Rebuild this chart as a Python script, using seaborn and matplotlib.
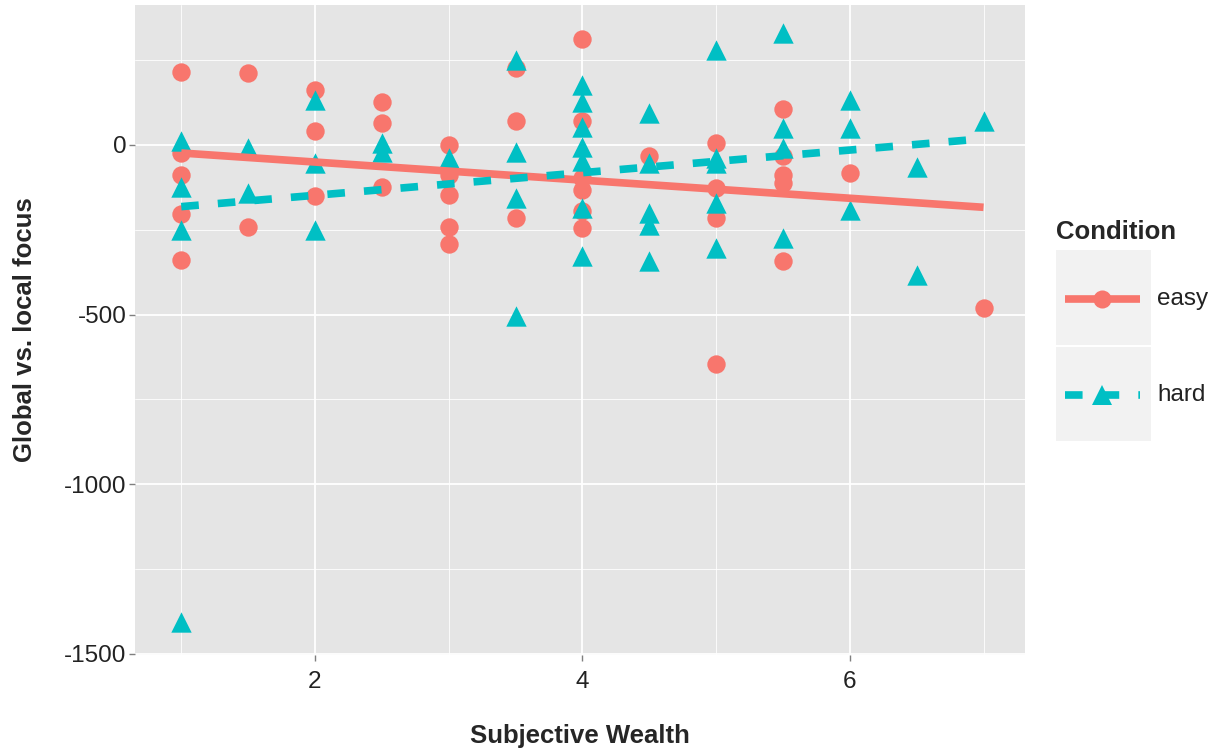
import numpy as np
import pandas as pd
import matplotlib
matplotlib.use("Agg")
import matplotlib.pyplot as plt
import seaborn as sns
from matplotlib.patches import Rectangle
from matplotlib.lines import Line2D
from matplotlib.ticker import FixedLocator

# ---- data ----
easy_wealth = [1, 1, 1, 1, 1, 1.5, 1.5, 2, 2, 2, 2.5, 2.5, 2.5, 3, 3, 3, 3, 3,
               3.5, 3.5, 3.5, 4, 4, 4, 4, 4, 4, 4.5, 5, 5, 5, 5,
               5.5, 5.5, 5.5, 5.5, 5.5, 6, 7]
easy_focus = [215, -24, -88, -204, -338, 211, -243, 162, 41, -152, 127, 64, -123,
              0, -88, -149, -243, -292, 225, 70, -216, 311, 69, -98, -132, -196, -245,
              -34, 5, -127, -216, -645, 106, -34, -88, -113, -343, -83, -480]
hard_wealth = [1, 1, 1, 1, 1.5, 1.5, 2, 2, 2, 2.5, 2.5, 3, 3.5, 3.5, 3.5, 3.5,
               4, 4, 4, 4, 4, 4, 4, 4.5, 4.5, 4.5, 4.5, 4.5, 5, 5, 5, 5, 5,
               5.5, 5.5, 5.5, 5.5, 6, 6, 6, 6.5, 6.5, 7]
hard_focus = [10, -123, -250, -1405, -8, -142, 132, -54, -250, 5, -20, -39,
              250, -20, -157, -505, 176, 127, 54, -5, -49, -186, -328,
              93, -54, -201, -235, -343, 279, -39, -54, -171, -304,
              329, 51, -10, -274, 132, 49, -191, -64, -382, 69]
# linear trend lines as shown in the reference (values at x = 1 and x = 7)
trend_wealth = [1, 7]
easy_trend = [-24, -184]
hard_trend = [-182, 18]
conditions = ["easy", "hard"]
x_ticks = [2, 4, 6]
y_ticks = [0, -500, -1000, -1500]

df = pd.DataFrame({
    "Subjective Wealth": easy_wealth + hard_wealth,
    "Global vs. local focus": easy_focus + hard_focus,
    "Condition": ["easy"] * len(easy_wealth) + ["hard"] * len(hard_wealth),
})
trend = pd.DataFrame({
    "Subjective Wealth": trend_wealth * 2,
    "Global vs. local focus": easy_trend + hard_trend,
    "Condition": ["easy"] * 2 + ["hard"] * 2,
})

colors = {"easy": "#F8766D", "hard": "#00BFC4"}
markers = {"easy": "o", "hard": "^"}
sizes = {"easy": 175, "hard": 215}

sns.set_theme(style="darkgrid")
plt.rcParams["font.family"] = ["Liberation Sans", "DejaVu Sans"]
plt.rcParams["axes.unicode_minus"] = False

W, H = 1222, 755
fig = plt.figure(figsize=(W / 100, H / 100), dpi=100)
fig.patch.set_facecolor("white")
ax = fig.add_axes([135 / W, 1 - 655 / H, (1025 - 135) / W, (655 - 5) / H])
ax.set_facecolor("#E5E5E5")

for cond in conditions:
    sub = df[df["Condition"] == cond]
    sns.scatterplot(data=sub, x="Subjective Wealth", y="Global vs. local focus",
                    color=colors[cond], marker=markers[cond], s=sizes[cond],
                    linewidth=0, ax=ax, legend=False, zorder=3)
for cond in conditions:
    sub = trend[trend["Condition"] == cond]
    kw = dict(color=colors[cond], lw=5.5, zorder=4, solid_capstyle="butt")
    if cond == "hard":
        kw.update(dashes=(2.3, 2.5), dash_capstyle="butt")
    sns.lineplot(data=sub, x="Subjective Wealth", y="Global vs. local focus",
                 ax=ax, legend=False, **kw)

ax.set_xlim(0.654, 7.31)
ax.set_ylim(-1503, 412)
ax.xaxis.set_major_locator(FixedLocator(x_ticks))
ax.yaxis.set_major_locator(FixedLocator(y_ticks))
ax.xaxis.set_minor_locator(FixedLocator([1, 3, 5, 7]))
ax.yaxis.set_minor_locator(FixedLocator([-1250, -750, -250, 250]))
ax.grid(which="major", color="white", lw=1.3)
ax.grid(which="minor", color="white", lw=0.6)
ax.set_axisbelow(True)
for sp in ax.spines.values():
    sp.set_visible(False)
ax.tick_params(axis="both", which="major", length=4, width=1, color="#7F7F7F",
               labelsize=17.5, labelcolor="#222222", bottom=True, left=True)
ax.tick_params(axis="x", which="major", pad=7.5)
ax.tick_params(axis="y", which="major", pad=2)
ax.tick_params(axis="both", which="minor", length=0)
ax.set_xlabel("Subjective Wealth", fontsize=18.5, fontweight="bold", labelpad=22.5)
ax.set_ylabel("Global vs. local focus", fontsize=18.5, fontweight="bold", labelpad=19.5)

# ---- legend (ggplot style) ----
lax = fig.add_axes([0, 0, 1, 1], zorder=10)
lax.set_xlim(0, W)
lax.set_ylim(H, 0)
lax.axis("off")
lax.patch.set_visible(False)
lax.text(1056, 232, "Condition", fontsize=18.5, fontweight="bold", va="center", ha="left")
key_rows = {"easy": (250, 345), "hard": (347, 441)}
for cond in conditions:
    y0, y1 = key_rows[cond]
    lax.add_patch(Rectangle((1056, y0), 95, y1 - y0, facecolor="#F2F2F2", edgecolor="none"))
    yc = (y0 + y1) / 2 + 1
    lk = dict(color=colors[cond], lw=5.5, solid_capstyle="butt")
    if cond == "hard":
        lk.update(dashes=(2.3, 2.5), dash_capstyle="butt")
    lax.add_line(Line2D([1065, 1140], [yc, yc], **lk))
    lax.add_line(Line2D([1102], [yc], marker=markers[cond], color=colors[cond],
                        markersize=13 if cond == "easy" else 14.5, markeredgewidth=0, lw=0))
    lax.text(1157, yc, cond, fontsize=17.5, va="center", ha="left", color="#222222")

fig.savefig("out.png", dpi=100)
